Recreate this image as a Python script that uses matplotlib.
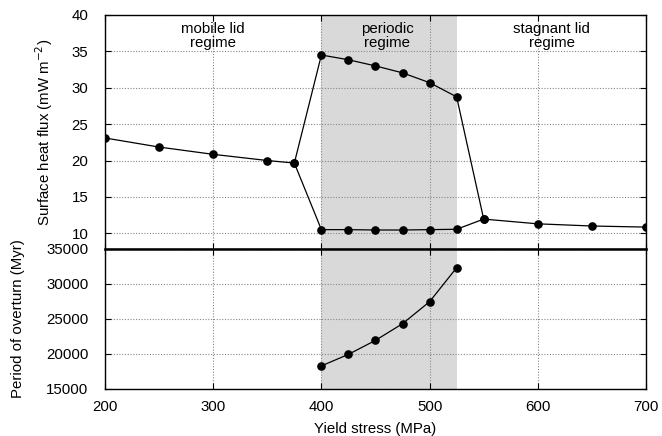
import matplotlib
matplotlib.use("Agg")
import matplotlib.pyplot as plt

plt.rcParams['font.family'] = ['Liberation Sans', 'DejaVu Sans']
plt.rcParams['font.size'] = 10.8

# surface heat flux, upper branch (mobile lid -> periodic max -> stagnant lid)
x_haut = [200, 250, 300, 350, 375, 400, 425, 450, 475, 500, 525, 550, 600, 650, 700]
flux_haut = [23.1, 21.85, 20.85, 20.0, 19.65, 34.5, 33.85, 33.0, 32.05, 30.7, 28.75, 11.95, 11.3, 11.0, 10.85]
# lower branch (periodic minimum)
x_bas = [375, 400, 425, 450, 475, 500, 525, 550]
flux_bas = [19.65, 10.5, 10.5, 10.45, 10.45, 10.5, 10.55, 11.95]
# period of overturn
x_periode = [400, 425, 450, 475, 500, 525]
periode = [18300, 19950, 21950, 24330, 27470, 32330]

regimes = ["mobile lid\nregime", "periodic\nregime", "stagnant lid\nregime"]
x_regimes = [300, 461, 613]
zone = [400, 525]

fig = plt.figure(figsize=(6.62, 4.36), dpi=100)
ax1 = fig.add_axes([0.1586, 0.4289, 0.8172, 0.5367])
ax2 = fig.add_axes([0.1586, 0.1078, 0.8172, 0.3211])

for ax in (ax1, ax2):
    ax.axvspan(zone[0], zone[1], color='#d9d9d9', zorder=0, lw=0)
    ax.set_xlim(200, 700)
    ax.set_xticks([200, 300, 400, 500, 600, 700])
    ax.grid(True, color='#888888', linestyle=(0, (1, 1.5)), linewidth=0.8)
    ax.tick_params(direction='in', top=True, right=True, length=4)
    ax.tick_params(axis='y', pad=12)
    ax.tick_params(axis='x', pad=8)
    for s in ax.spines.values():
        s.set_linewidth(1.0)

ax1.plot(x_haut, flux_haut, 'k-o', lw=0.9, ms=5.2)
ax1.plot(x_bas, flux_bas, 'k-o', lw=0.9, ms=5.2)
ax1.set_ylim(7.84, 40)
ax1.set_yticks([10, 15, 20, 25, 30, 35, 40])
ax1.tick_params(labelbottom=False)
ax1.set_ylabel("Surface heat flux (mW m$^{-2}$)")
ax1.yaxis.set_label_coords(-0.092, 0.5)
for t, xr in zip(regimes, x_regimes):
    ax1.text(xr, 37.1, t, ha='center', va='center', linespacing=0.95)

ax2.plot(x_periode, periode, 'k-o', lw=0.9, ms=5.2)
ax2.set_ylim(15000, 35000)
ax2.set_yticks([15000, 20000, 25000, 30000, 35000])
ax2.set_ylabel("Period of overturn (Myr)")
ax2.yaxis.set_label_coords(-0.148, 0.5)
ax2.set_xlabel("Yield stress (MPa)", labelpad=6)
ax2.spines['top'].set_linewidth(1.8)

fig.savefig("out.png", dpi=100)
